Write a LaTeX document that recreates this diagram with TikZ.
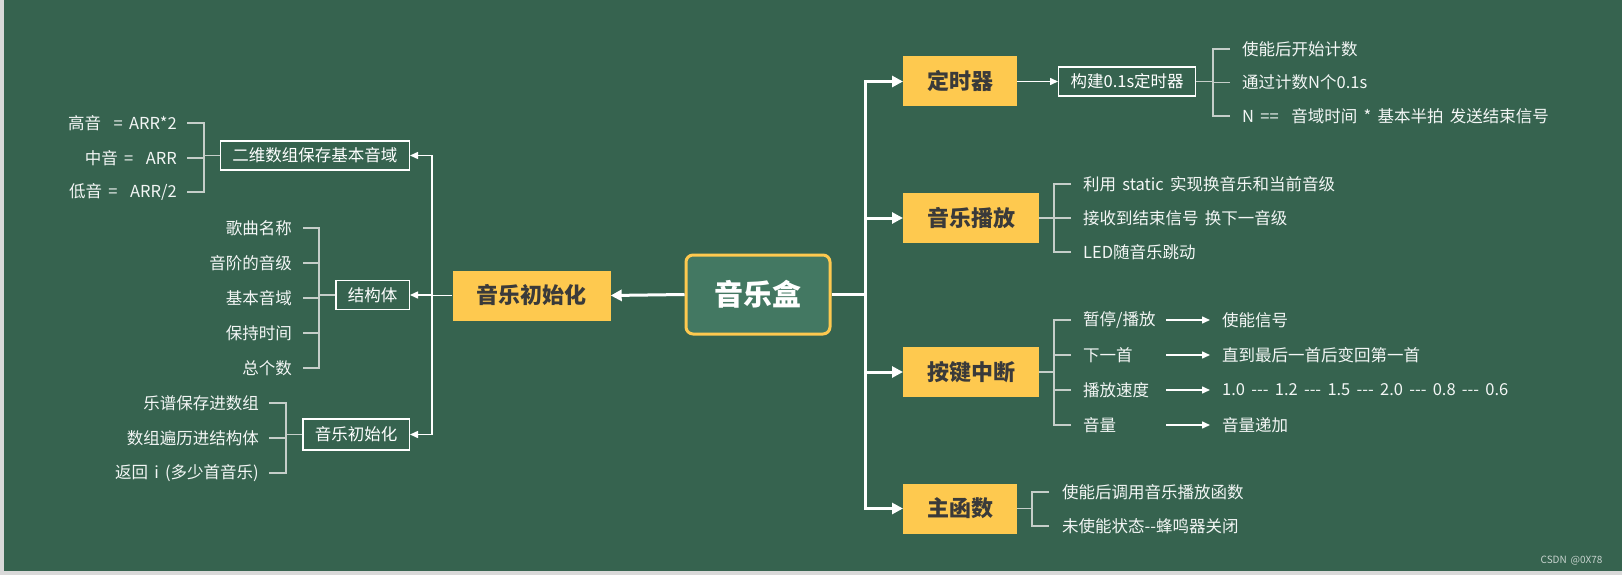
\documentclass[tikz,border=0pt]{standalone}
\usepackage{fontspec}
\setmainfont{Noto Sans CJK SC}[WordSpace=1.7]
\usetikzlibrary{arrows.meta, positioning}
\definecolor{board}{HTML}{36634F}
\definecolor{boardlight}{HTML}{437862}
\definecolor{note}{HTML}{FEC94F}
\definecolor{inkdark}{HTML}{3A3A3A}
\definecolor{twiggray}{HTML}{C5CEC9}
\definecolor{edgegray}{HTML}{D9D9D9}

\begin{document}
\begin{tikzpicture}[x=1pt, y=-1pt,
    root/.style   = {
      rectangle, rounded corners=7pt,
      draw=note, line width=3pt, fill=boardlight,
      minimum width=144pt, minimum height=79pt,
      text=white, font=\fontsize{29}{34}\selectfont\bfseries
    },
    topic/.style  = {
      rectangle, fill=note, text=inkdark,
      inner xsep=24pt, minimum height=50pt,
      font=\fontsize{22}{26}\selectfont\bfseries
    },
    frame/.style  = {
      rectangle, draw=white, line width=1.2pt, text=white,
      inner xsep=12pt, minimum height=29pt,
      font=\fontsize{16.5}{20}\selectfont
    },
    leaf/.style   = {inner xsep=0pt, inner ysep=2pt, text=white!94!board,
                     font=\fontsize{16.5}{20}\selectfont},
    result/.style = {leaf, inner xsep=12pt},
    trunk/.style  = {line width=3pt, white, -{Triangle[length=11pt,width=11pt]}},
    arrow/.style  = {line width=1.5pt, white, -{Triangle[length=8pt,width=7pt]}},
    twig/.style   = {line width=1.5pt, color=twiggray}
  ]

  % board
  \fill[edgegray] (0,0) rectangle (1622,575);
  \fill[board] (4,0) rectangle (1622,571);
  \useasboundingbox (0,0) rectangle (1622,575);

  % centre
  \node[root] at (758,294.5) (box) {音乐盒};

  % left side — x=410 boxes
  \node[topic] at (531.5,295.5) (init) {音乐初始化};
  \node[frame, anchor=east] at (410,155.5) (table)  {二维数组保存基本音域};
  \node[frame, anchor=east] at (410,295)   (struct) {结构体};
  \node[frame, anchor=east, minimum height=31pt] at (410,434.5) (setup) {音乐初始化};

  \node[leaf, anchor=east] at (177,123) (high) {高音\ \ = ARR*2};
  \node[leaf, anchor=east] at (177,158) (mid)  {中音 =\ \ ARR};
  \node[leaf, anchor=east] at (177,192) (low)  {低音 =\ \ ARR/2};

  \node[leaf, anchor=east] at (292,228) (s1) {歌曲名称};
  \node[leaf, anchor=east] at (292,263) (s2) {音阶的音级};
  \node[leaf, anchor=east] at (292,298) (s3) {基本音域};
  \node[leaf, anchor=east] at (292,333) (s4) {保持时间};
  \node[leaf, anchor=east] at (292,368) (s5) {总个数};

  \node[leaf, anchor=east] at (259,403) (i1) {乐谱保存进数组};
  \node[leaf, anchor=east] at (259,438) (i2) {数组遍历进结构体};
  \node[leaf, anchor=east] at (259,473) (i3) {返回 i (多少首音乐)};

  % right side — x=903 boxes
  \node[topic, anchor=west] at (903,81.5)  (timer)  {定时器};
  \node[topic, anchor=west] at (903,218)   (play)   {音乐播放};
  \node[topic, anchor=west] at (903,372)   (keys)   {按键中断};
  \node[topic, anchor=west] at (903,508.5) (mainfn) {主函数};
  \node[frame, anchor=west] at (1058,81.5) (tick)   {构建0.1s定时器};

  \node[leaf, anchor=west] at (1242,49)   (t1) {使能后开始计数};
  \node[leaf, anchor=west] at (1242,82.5) (t2) {通过计数N个0.1s};
  \node[leaf, anchor=west] at (1242,116)  (t3) {N ==\ \ 音域时间 * 基本半拍 发送结束信号};

  \node[leaf, anchor=west] at (1083,184) (p1) {利用 static 实现换音乐和当前音级};
  \node[leaf, anchor=west] at (1083,218) (p2) {接收到结束信号 换下一音级};
  \node[leaf, anchor=west] at (1083,252) (p3) {LED随音乐跳动};

  \node[leaf, anchor=west, text width=81pt] at (1083,320) (k1) {暂停/播放};
  \node[leaf, anchor=west, text width=81pt] at (1083,355) (k2) {下一首};
  \node[leaf, anchor=west, text width=81pt] at (1083,390) (k3) {播放速度};
  \node[leaf, anchor=west, text width=81pt] at (1083,425) (k4) {音量};
  \node[result, anchor=west] at (1210,320) (r1) {使能信号};
  \node[result, anchor=west] at (1210,355) (r2) {直到最后一首后变回第一首};
  \node[result, anchor=west] at (1210,390) (r3) {1.0 {-}{-}{-} 1.2 {-}{-}{-} 1.5 {-}{-}{-} 2.0 {-}{-}{-} 0.8 {-}{-}{-} 0.6};
  \node[result, anchor=west] at (1210,425) (r4) {音量递加};

  \node[leaf, anchor=west] at (1062,492) (m1) {使能后调用音乐播放函数};
  \node[leaf, anchor=west] at (1062,526) (m2) {未使能状态{-}{-}蜂鸣器关闭};

  \node[anchor=east, text=white!72!board, font=\fontsize{10}{12}\selectfont]
    at (1606,561) (credit) {CSDN @0X78};

  % bus points
  \coordinate (rbus) at (865,294.5);
  \coordinate (lbus) at (432,295.5);
  \coordinate (bt) at (204,155.5);
  \coordinate (bs) at (319,295);
  \coordinate (bi) at (286,434.5);
  \coordinate (bk) at (1213,81.5);
  \coordinate (bp) at (1054,218);
  \coordinate (bq) at (1054,372);
  \coordinate (bm) at (1032,508.5);

  % Arrows
  \draw[trunk] (box.west) -- (init.east);
  \draw[line width=3pt, white] (box.east) -- (rbus);
  \draw[trunk] (rbus) |- (timer);
  \draw[trunk] (rbus) |- (play);
  \draw[trunk] (rbus) |- (keys);
  \draw[trunk] (rbus) |- (mainfn);

  \draw[line width=1.5pt, white] (init.west) -- (lbus);
  \draw[arrow] (lbus) |- (table);
  \draw[arrow] (lbus) |- (struct);
  \draw[arrow] (lbus) |- (setup);
  \draw[arrow] (timer) -- (tick);

  % brackets
  \draw[twig] (table.west) -- (bt);
  \foreach \n in {high,mid,low} \draw[twig] ([xshift=10pt]\n.east) -| (bt);
  \draw[twig] (struct.west) -- (bs);
  \foreach \n in {s1,s2,s3,s4,s5} \draw[twig] ([xshift=11pt]\n.east) -| (bs);
  \draw[twig] (setup.west) -- (bi);
  \foreach \n in {i1,i2,i3} \draw[twig] ([xshift=10pt]\n.east) -| (bi);

  \draw[twig] (tick.east) -- (bk);
  \foreach \n in {t1,t2,t3} \draw[twig] ([xshift=-12pt]\n.west) -| (bk);
  \draw[twig] (play.east) -- (bp);
  \foreach \n in {p1,p2,p3} \draw[twig] ([xshift=-12pt]\n.west) -| (bp);
  \draw[twig] (keys.east) -- (bq);
  \foreach \n in {k1,k2,k3,k4} \draw[twig] ([xshift=-12pt]\n.west) -| (bq);
  \draw[twig] (mainfn.east) -- (bm);
  \foreach \n in {m1,m2} \draw[twig] ([xshift=-13pt]\n.west) -| (bm);

  \foreach \n in {1,2,3,4} \draw[arrow, shorten <=2pt] (k\n.east) -- (r\n.west);
\end{tikzpicture}
\end{document}
